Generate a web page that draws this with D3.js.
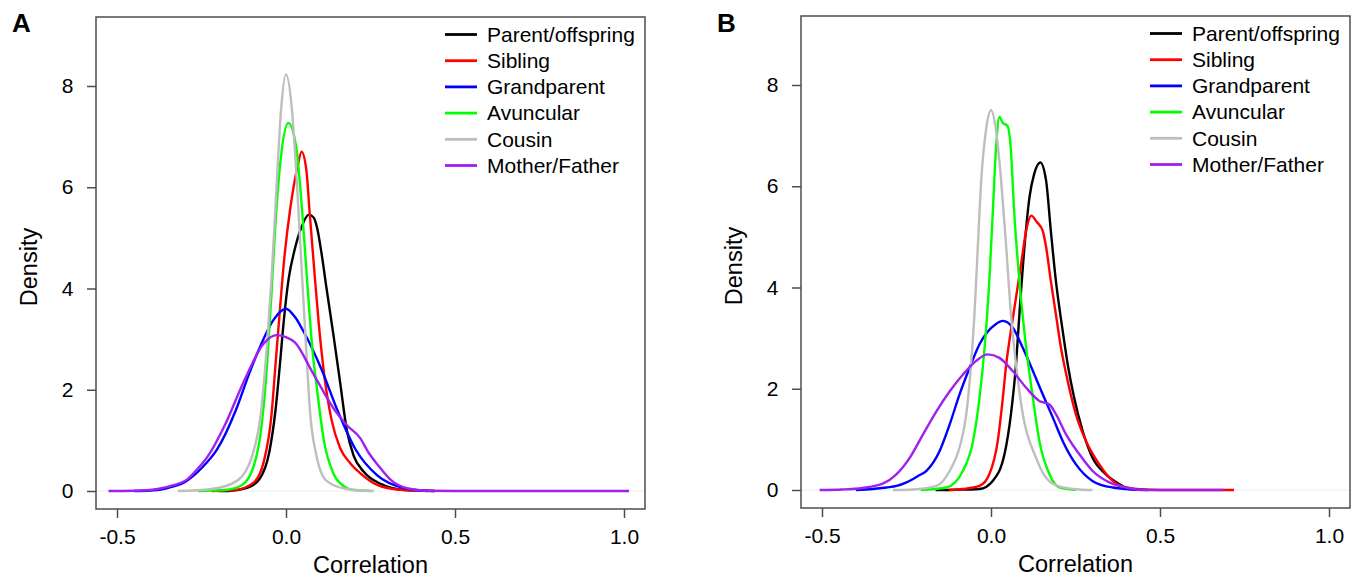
<!DOCTYPE html>
<html>
<head>
<meta charset="utf-8">
<script src="https://cdn.jsdelivr.net/npm/d3@7"></script>
<style>
  body { margin: 0; background: #fff; }
  svg { display: block; font-family: "Liberation Sans", Arial, sans-serif; }
</style>
</head>
<body>
<svg id="chart" width="1359" height="577"></svg>
<script>
const relationships = ["Parent/offspring", "Sibling", "Grandparent", "Avuncular", "Cousin", "Mother/Father"];
const lineColors = ["#000000", "#ff0000", "#0000ff", "#00ff00", "#bebebe", "#a020f0"];
const xTicks = [-0.5, 0, 0.5, 1.0];
const yTicks = [0, 2, 4, 6, 8];

// panel A: [correlation, density]
const parentA = [[-0.2, 0], [-0.17, 0], [-0.115, 0.06], [-0.077, 0.25], [-0.05, 0.75], [-0.031, 1.6], [-0.018, 2.5], [-0.006, 3.4], [0.008, 4.2], [0.025, 4.75], [0.045, 5.2], [0.068, 5.46], [0.082, 5.4], [0.092, 5.2], [0.105, 4.7], [0.12, 4.0], [0.14, 3.1], [0.16, 2.15], [0.18, 1.2], [0.2, 0.7], [0.23, 0.38], [0.28, 0.14], [0.35, 0.02], [0.44, 0]];
const siblingA = [[-0.22, 0], [-0.15, 0.02], [-0.095, 0.17], [-0.065, 0.6], [-0.043, 1.5], [-0.031, 2.5], [-0.019, 3.5], [-0.005, 4.6], [0.013, 5.6], [0.034, 6.4], [0.046, 6.7], [0.06, 6.35], [0.07, 5.5], [0.082, 4.5], [0.097, 3.3], [0.113, 2.3], [0.135, 1.4], [0.16, 0.85], [0.19, 0.55], [0.22, 0.35], [0.27, 0.12], [0.33, 0.03], [0.44, 0]];
const grandparentA = [[-0.45, 0], [-0.4, 0.01], [-0.35, 0.06], [-0.294, 0.2], [-0.25, 0.45], [-0.204, 0.82], [-0.147, 1.62], [-0.11, 2.3], [-0.076, 2.86], [-0.038, 3.37], [0, 3.6], [0.025, 3.45], [0.052, 3.15], [0.104, 2.42], [0.155, 1.55], [0.206, 0.82], [0.27, 0.31], [0.348, 0.06], [0.42, 0]];
const avuncularA = [[-0.26, 0], [-0.18, 0.02], [-0.13, 0.12], [-0.095, 0.5], [-0.072, 1.3], [-0.056, 2.5], [-0.043, 3.9], [-0.031, 5.3], [-0.015, 6.6], [0.007, 7.27], [0.03, 6.8], [0.047, 5.6], [0.062, 4.2], [0.078, 2.8], [0.092, 2.0], [0.112, 1.0], [0.14, 0.35], [0.17, 0.1], [0.2, 0.02], [0.25, 0]];
const cousinA = [[-0.32, 0], [-0.22, 0.04], [-0.145, 0.2], [-0.1, 0.7], [-0.075, 1.5], [-0.055, 3.0], [-0.042, 4.3], [-0.028, 6.0], [-0.015, 7.5], [0, 8.23], [0.018, 7.5], [0.033, 6.0], [0.047, 4.3], [0.058, 3.0], [0.072, 1.5], [0.09, 0.7], [0.12, 0.2], [0.18, 0.04], [0.26, 0]];
const motherFatherA = [[-0.525, 0], [-0.45, 0.005], [-0.38, 0.04], [-0.33, 0.12], [-0.294, 0.22], [-0.26, 0.45], [-0.23, 0.7], [-0.179, 1.33], [-0.127, 2.13], [-0.064, 2.93], [-0.028, 3.08], [0, 3.04], [0.027, 2.93], [0.078, 2.35], [0.142, 1.62], [0.18, 1.3], [0.219, 1.05], [0.245, 0.75], [0.27, 0.53], [0.31, 0.22], [0.36, 0.05], [0.42, 0.005], [0.5, 0], [1.015, 0]];

// panel B
const parentB = [[-0.164, 0], [-0.1, 0.005], [-0.034, 0.02], [0.005, 0.18], [0.04, 0.71], [0.059, 1.5], [0.074, 2.48], [0.084, 3.47], [0.099, 4.8], [0.114, 5.79], [0.128, 6.25], [0.146, 6.47], [0.163, 6.11], [0.177, 5.12], [0.192, 4.13], [0.212, 3.15], [0.227, 2.48], [0.246, 1.82], [0.271, 1.17], [0.3, 0.64], [0.34, 0.31], [0.379, 0.12], [0.409, 0.02], [0.463, 0]];
const siblingB = [[-0.125, 0], [-0.083, 0.02], [-0.034, 0.08], [-0.005, 0.31], [0.02, 0.97], [0.035, 1.82], [0.045, 2.48], [0.059, 3.15], [0.074, 3.8], [0.089, 4.46], [0.104, 5.12], [0.119, 5.42], [0.135, 5.3], [0.153, 5.12], [0.163, 4.8], [0.177, 4.13], [0.192, 3.47], [0.207, 2.81], [0.227, 2.15], [0.251, 1.5], [0.281, 0.97], [0.32, 0.51], [0.36, 0.18], [0.399, 0.05], [0.45, 0.01], [0.55, 0], [0.719, 0]];
const grandparentB = [[-0.4, 0], [-0.35, 0.02], [-0.309, 0.05], [-0.279, 0.08], [-0.25, 0.15], [-0.215, 0.28], [-0.191, 0.38], [-0.152, 0.77], [-0.122, 1.3], [-0.093, 1.89], [-0.063, 2.42], [-0.034, 2.88], [0.015, 3.28], [0.035, 3.34], [0.064, 3.21], [0.094, 2.81], [0.124, 2.35], [0.153, 1.89], [0.183, 1.43], [0.212, 0.97], [0.251, 0.51], [0.3, 0.18], [0.36, 0.05], [0.45, 0]];
const avuncularB = [[-0.208, 0], [-0.132, 0.05], [-0.083, 0.38], [-0.053, 0.97], [-0.034, 1.82], [-0.019, 2.81], [-0.005, 4.13], [0.005, 5.45], [0.015, 6.77], [0.025, 7.37], [0.035, 7.25], [0.048, 7.2], [0.058, 6.8], [0.069, 5.45], [0.084, 4.13], [0.104, 2.81], [0.124, 1.82], [0.143, 0.97], [0.173, 0.31], [0.202, 0.05], [0.25, 0]];
const cousinB = [[-0.29, 0], [-0.23, 0.01], [-0.161, 0.08], [-0.122, 0.38], [-0.093, 0.84], [-0.073, 1.5], [-0.059, 2.48], [-0.049, 3.47], [-0.039, 4.8], [-0.029, 6.11], [-0.015, 7.1], [0, 7.5], [0.015, 7.1], [0.03, 6.11], [0.045, 4.8], [0.059, 3.47], [0.074, 2.48], [0.094, 1.5], [0.133, 0.64], [0.163, 0.24], [0.202, 0.07], [0.26, 0.01], [0.3, 0]];
const motherFatherB = [[-0.507, 0], [-0.44, 0.01], [-0.38, 0.04], [-0.319, 0.13], [-0.28, 0.31], [-0.24, 0.64], [-0.201, 1.1], [-0.161, 1.56], [-0.122, 1.95], [-0.083, 2.28], [-0.044, 2.55], [-0.01, 2.68], [0.025, 2.61], [0.064, 2.35], [0.104, 2.02], [0.143, 1.76], [0.173, 1.69], [0.192, 1.5], [0.222, 1.1], [0.261, 0.71], [0.3, 0.38], [0.35, 0.15], [0.399, 0.05], [0.46, 0], [0.687, 0]];

const panels = [
  { label: "A", left: 96, top: 17, series: [parentA, siblingA, grandparentA, avuncularA, cousinA, motherFatherA] },
  { label: "B", left: 801, top: 16, series: [parentB, siblingB, grandparentB, avuncularB, cousinB, motherFatherB] },
];

const boxW = 549;
const boxH = 492;
const svg = d3.select("#chart");

const xScale = d3.scaleLinear().domain([-0.5, 1.0]).range([21, 528]);
const yScale = d3.scaleLinear().domain([0, 8]).range([474, 69]);

const line = d3
  .line()
  .x((d) => xScale(d[0]))
  .y((d) => yScale(d[1]))
  .curve(d3.curveMonotoneX);

function drawPanel(p) {
  const g = svg.append("g").attr("transform", `translate(${p.left}, ${p.top})`);

  // faint zero line
  g.append("line")
    .attr("x1", 0)
    .attr("x2", boxW)
    .attr("y1", yScale(0))
    .attr("y2", yScale(0))
    .attr("stroke", "#ececec")
    .attr("stroke-width", 1);

  p.series.forEach((s, i) => {
    g.append("path")
      .datum(s)
      .attr("d", line)
      .attr("fill", "none")
      .attr("stroke", lineColors[i])
      .attr("stroke-width", 2.4)
      .attr("stroke-linejoin", "round");
  });

  // frame
  g.append("rect")
    .attr("width", boxW)
    .attr("height", boxH)
    .attr("fill", "none")
    .attr("stroke", "#4d4d4d")
    .attr("stroke-width", 1.5);

  const xAxis = d3
    .axisBottom(xScale)
    .tickValues(xTicks)
    .tickFormat((d) => d.toFixed(1))
    .tickSize(9)
    .tickPadding(11);
  const yAxis = d3
    .axisLeft(yScale)
    .tickValues(yTicks)
    .tickSize(9)
    .tickPadding(13.5);

  const gx = g.append("g").attr("transform", `translate(0, ${boxH})`).call(xAxis);
  const gy = g.append("g").call(yAxis);
  [gx, gy].forEach((a) => {
    a.select(".domain").remove();
    a.selectAll("line").attr("stroke", "#4d4d4d").attr("stroke-width", 1.5);
    a.selectAll("text")
      .attr("fill", "#000")
      .style("font-size", "21px")
      .style("font-family", "'Liberation Sans', Arial, sans-serif");
  });

  g.append("text")
    .text("Correlation")
    .attr("x", boxW / 2)
    .attr("y", boxH + 64)
    .attr("text-anchor", "middle")
    .style("font-size", "23.5px");

  g.append("text")
    .text("Density")
    .attr("transform", `translate(-59, ${boxH / 2 + 4}) rotate(-90)`)
    .attr("text-anchor", "middle")
    .style("font-size", "23.5px");

  svg.append("text")
    .text(p.label)
    .attr("x", p.left - 84)
    .attr("y", 32)
    .style("font-size", "26px")
    .style("font-weight", "bold");

  // legend
  const legend = g.append("g").attr("transform", "translate(349, 17.5)");
  relationships.forEach((name, i) => {
    const row = legend.append("g").attr("transform", `translate(0, ${i * 26.2})`);
    row.append("line")
      .attr("x1", 0)
      .attr("x2", 32)
      .attr("stroke", lineColors[i])
      .attr("stroke-width", 2.8);
    row.append("text")
      .text(name)
      .attr("x", 42)
      .attr("dy", "0.35em")
      .style("font-size", "21px");
  });
}

panels.forEach(drawPanel);
</script>
</body>
</html>
